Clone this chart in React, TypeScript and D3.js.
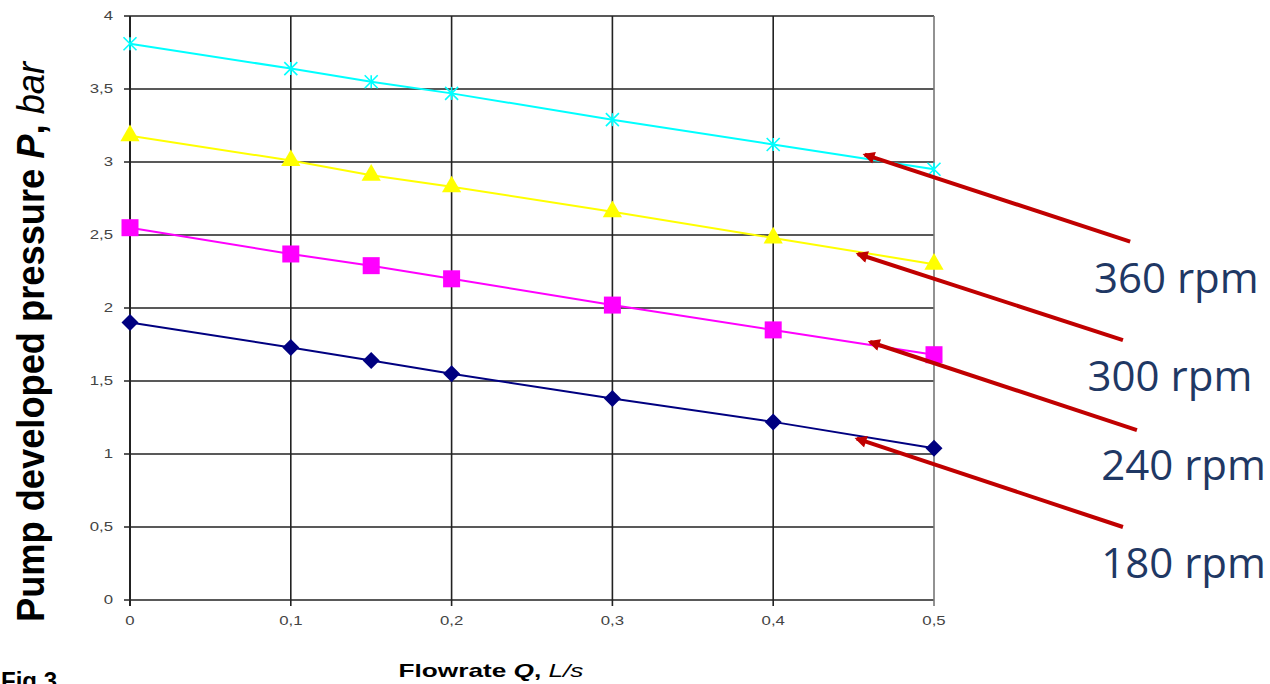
import React from "react";
import * as d3 from "d3";

const flow = [0, 0.1, 0.15, 0.2, 0.3, 0.4, 0.5];
const p360 = [3.81, 3.64, 3.55, 3.47, 3.29, 3.12, 2.95];
const p300 = [3.18, 3.01, 2.91, 2.83, 2.66, 2.48, 2.3];
const p240 = [2.55, 2.37, 2.29, 2.2, 2.02, 1.85, 1.68];
const p180 = [1.9, 1.73, 1.64, 1.55, 1.38, 1.22, 1.04];
const xTicks = [0, 0.1, 0.2, 0.3, 0.4, 0.5];
const yTicks = [0, 0.5, 1, 1.5, 2, 2.5, 3, 3.5, 4];
const rpmLabels = ["360 rpm", "300 rpm", "240 rpm", "180 rpm"];
// arrow annotations in data units: tip (on curve) and tail
const arrowTip = [
  [0.457, 3.05],
  [0.4527, 2.37],
  [0.4602, 1.767],
  [0.452, 1.105],
];
const arrowTail = [
  [0.622, 2.455],
  [0.6175, 1.78],
  [0.6262, 1.164],
  [0.6175, 0.5],
];
const labelPos = [
  [0.5995, 2.1],
  [0.5955, 1.43],
  [0.604, 0.82],
  [0.604, 0.15],
];

export default function App() {
  const W = 1270, H = 684;
  const x = d3.scaleLinear().domain([0, 0.5]).range([130, 934]);
  const y = d3.scaleLinear().domain([0, 4]).range([600, 16]);
  const line = d3
    .line<number>()
    .x((_, i) => x(flow[i]))
    .y((d) => y(d));
  const fmt = (v: number) => String(v).replace(".", ",");
  const series = [
    { data: p360, color: "#00FFFF", marker: "star" },
    { data: p300, color: "#FFFF00", marker: "tri" },
    { data: p240, color: "#FF00FF", marker: "square" },
    { data: p180, color: "#000080", marker: "diamond" },
  ];
  const red = "#C00000";
  return (
    <svg
      width={W}
      height={H}
      style={{ position: "absolute", left: 0, top: 0, background: "#fff" }}
      fontFamily="Arial, 'Liberation Sans', sans-serif"
    >
      <defs>
        <marker
          id="ah"
          viewBox="0 0 10 10"
          refX="8"
          refY="5"
          markerWidth="3.4"
          markerHeight="3"
          orient="auto"
          markerUnits="strokeWidth"
        >
          <path d="M0,0 L10,5 L0,10 z" fill={red} />
        </marker>
      </defs>
      {/* grid */}
      {yTicks.map((t) => (
        <line
          key={"gy" + t}
          x1={x(0) - 6}
          x2={x(0.5)}
          y1={y(t)}
          y2={y(t)}
          stroke="#222"
          strokeWidth={1.6}
        />
      ))}
      {xTicks.map((t) => (
        <line
          key={"gx" + t}
          x1={x(t)}
          x2={x(t)}
          y1={y(4)}
          y2={y(0) + 6}
          stroke={t === 0.5 ? "#777" : "#222"}
          strokeWidth={t === 0 ? 2 : 1.6}
        />
      ))}
      {yTicks.map((t) => (
        <text
          key={"ly" + t}
          transform={`translate(113,${y(t)}) scale(1.4,1)`}
          dy="0.35em"
          textAnchor="end"
          fontSize={12}
          fill="#444"
        >
          {fmt(t)}
        </text>
      ))}
      {xTicks.map((t) => (
        <text
          key={"lx" + t}
          transform={`translate(${x(t)},625) scale(1.4,1)`}
          textAnchor="middle"
          fontSize={12}
          fill="#444"
        >
          {fmt(t)}
        </text>
      ))}
      {/* lines */}
      {series.map((s, si) => (
        <path
          key={"l" + si}
          d={line(s.data) || ""}
          fill="none"
          stroke={s.color}
          strokeWidth={2}
        />
      ))}
      {series.map((s, si) =>
        s.data.map((v, i) => {
          const cx = x(flow[i]);
          const cy = y(v);
          if (s.marker === "star") {
            const r = 6.5;
            return (
              <g key={"m" + si + "-" + i} stroke={s.color} strokeWidth={1.6}>
                <line x1={cx - r} y1={cy - r} x2={cx + r} y2={cy + r} />
                <line x1={cx - r} y1={cy + r} x2={cx + r} y2={cy - r} />
                <line x1={cx} y1={cy - r} x2={cx} y2={cy + r} />
              </g>
            );
          }
          if (s.marker === "diamond") {
            const r = 8.5;
            return (
              <path
                key={"m" + si + "-" + i}
                d={`M${cx},${cy - r}L${cx + r},${cy}L${cx},${cy + r}L${cx - r},${cy}Z`}
                fill={s.color}
              />
            );
          }
          if (s.marker === "square") {
            return (
              <rect
                key={"m" + si + "-" + i}
                x={cx - 8.5}
                y={cy - 8.5}
                width={17}
                height={17}
                fill={s.color}
              />
            );
          }
          return (
            <path
              key={"m" + si + "-" + i}
              d={d3.symbol(d3.symbolTriangle, 160)() || ""}
              transform={`translate(${cx},${cy})`}
              fill={s.color}
            />
          );
        })
      )}
      {/* axis titles */}
      <text
        transform={`translate(44,${342}) rotate(-90) scale(0.93,1)`}
        textAnchor="middle"
        fontSize={39}
        fill="#000"
      >
        <tspan fontWeight="bold">Pump developed pressure </tspan>
        <tspan fontWeight="bold" fontStyle="italic">P</tspan>
        <tspan fontWeight="bold">, </tspan>
        <tspan fontStyle="italic">bar</tspan>
      </text>
      <text
        transform="translate(491,677) scale(1.38,1)"
        textAnchor="middle"
        fontSize={19}
        fill="#000"
      >
        <tspan fontWeight="bold">Flowrate </tspan>
        <tspan fontWeight="bold" fontStyle="italic">Q</tspan>
        <tspan fontWeight="bold">, </tspan>
        <tspan fontStyle="italic">L/s</tspan>
      </text>
      <text x={1} y={689} fontSize={24} fontWeight="bold" fill="#000">
        Fig 3.
      </text>
      {/* annotations */}
      {arrowTip.map((tp, i) => (
        <line
          key={"a" + i}
          x1={x(arrowTail[i][0])}
          y1={y(arrowTail[i][1])}
          x2={x(tp[0])}
          y2={y(tp[1])}
          stroke={red}
          strokeWidth={4}
          markerEnd="url(#ah)"
        />
      ))}
      {rpmLabels.map((lab, i) => (
        <text
          key={"t" + i}
          x={x(labelPos[i][0])}
          y={y(labelPos[i][1])}
          fontSize={42}
          fill="#1F3864"
          fontFamily="'Open Sans', 'Noto Sans', sans-serif"
        >
          {lab}
        </text>
      ))}
    </svg>
  );
}
